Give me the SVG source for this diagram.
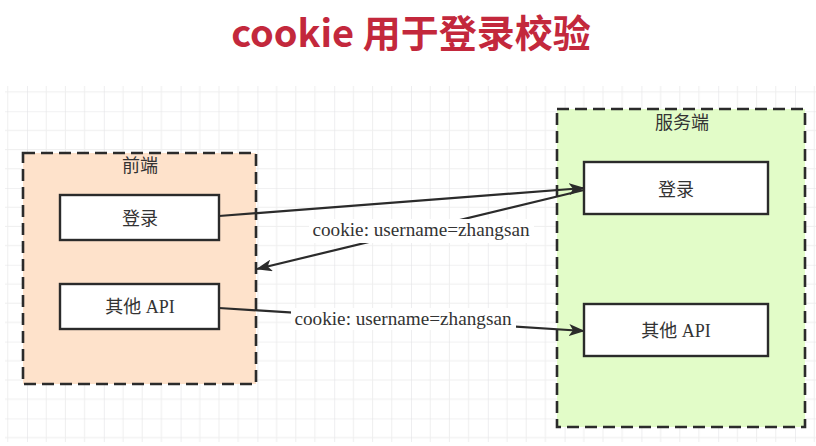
<svg xmlns="http://www.w3.org/2000/svg" width="816" height="446" viewBox="0 0 816 446">
<defs>
<pattern id="grid" patternUnits="userSpaceOnUse" x="27" y="111.2" width="76.8" height="76.8">
<path d="M19.2 0V76.8M38.4 0V76.8M57.6 0V76.8M0 19.2H76.8M0 38.4H76.8M0 57.6H76.8" stroke="#eeeeee" stroke-width="1" fill="none"/>
<path d="M0 0V76.8M0 0H76.8" stroke="#e3e3e6" stroke-width="1.2" fill="none"/>
</pattern>
<marker id="arr" markerWidth="16" markerHeight="12" viewBox="0 0 16 12" refX="15" refY="6" orient="auto" markerUnits="userSpaceOnUse">
<path d="M0 0L16 6L0 12L4 6Z" fill="#2b2b2b"/>
</marker>
<style>
.title{font-family:"Noto Sans CJK SC","Noto Sans",sans-serif;font-weight:bold;font-size:38px;fill:#c3283c}
.grp{stroke:#2b2b2b;stroke-width:2.6;stroke-dasharray:12 6}
.node{fill:#fff;stroke:#2b2b2b;stroke-width:2.4}
.lbl{font-family:"Liberation Serif","Noto Sans CJK SC",serif;font-size:18px;fill:#333;text-anchor:middle}
.edge{stroke:#2b2b2b;stroke-width:2.2;fill:none;marker-end:url(#arr)}
.elbl{font-family:"Liberation Serif","Noto Sans CJK SC",serif;font-size:19.2px;fill:#333;text-anchor:middle}
</style>
</defs>
<rect width="816" height="446" fill="#fff"/>
<text class="title" x="411" y="47" text-anchor="middle">cookie 用于登录校验</text>
<rect x="5" y="86" width="811" height="356" fill="url(#grid)"/>
<g id="frontend">
<rect class="grp" x="23" y="153" width="233" height="231" fill="#fee2cb"/>
<text class="lbl" x="140" y="172">前端</text>
</g>
<g id="server">
<rect class="grp" x="557" y="109" width="248" height="318" fill="#e2fcc8"/>
<text class="lbl" x="682" y="129">服务端</text>
</g>
<g id="fe-login">
<rect class="node" x="60" y="195" width="159" height="45"/>
<text class="lbl" x="140" y="225">登录</text>
</g>
<g id="fe-api">
<rect class="node" x="60" y="284" width="159" height="45"/>
<text class="lbl" x="140" y="313">其他 API</text>
</g>
<g id="sv-login">
<rect class="node" x="584" y="162" width="184" height="52"/>
<text class="lbl" x="676" y="196">登录</text>
</g>
<g id="sv-api">
<rect class="node" x="584" y="304" width="184" height="52"/>
<text class="lbl" x="676" y="337">其他 API</text>
</g>
<g id="connectors">
<path class="edge" d="M219 216L584 188"/>
<path class="edge" d="M584 190L257 269"/>
<path class="edge" d="M219 308L584 331"/>
<rect x="309" y="219" width="225" height="24" fill="#fff"/>
<text class="elbl" x="421" y="236">cookie: username=zhangsan</text>
<rect x="291" y="308" width="225" height="22" fill="#fff"/>
<text class="elbl" x="403" y="325">cookie: username=zhangsan</text>
</g>
</svg>
